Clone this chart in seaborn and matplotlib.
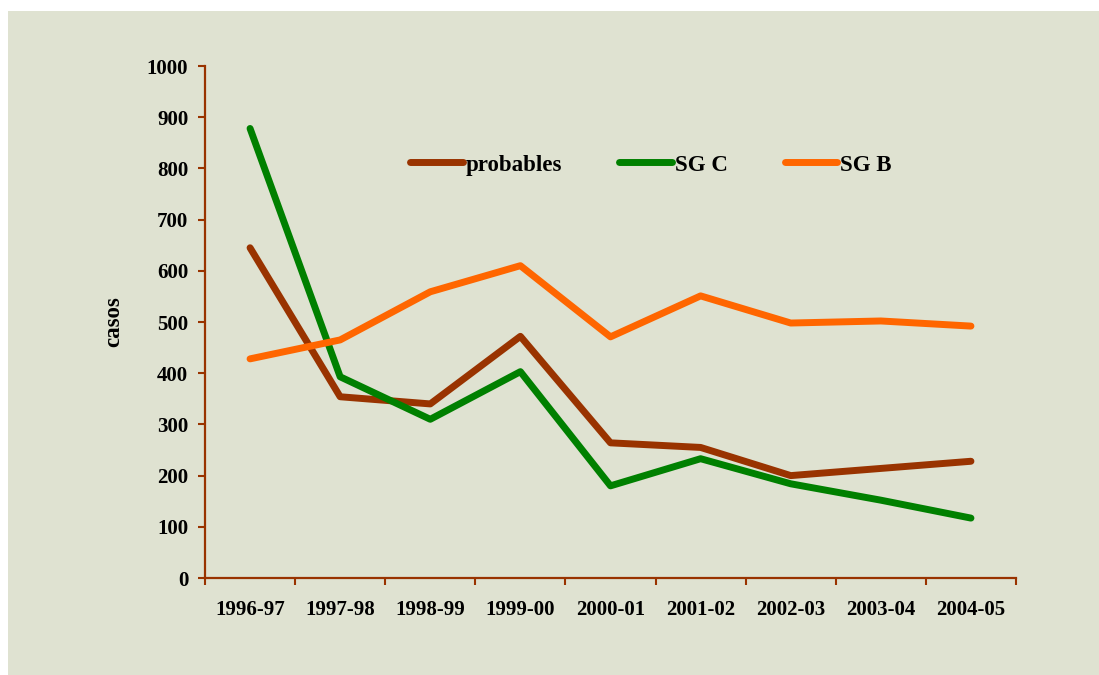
import pandas as pd
import matplotlib.pyplot as plt
import matplotlib.patches as mpatches
import seaborn as sns

# Data
seasons = ['1996-97', '1997-98', '1998-99', '1999-00', '2000-01',
           '2001-02', '2002-03', '2003-04', '2004-05']
probables = [645, 354, 340, 472, 264, 255, 200, 214, 228]
sg_c = [878, 393, 310, 403, 180, 233, 184, 152, 117]
sg_b = [428, 465, 559, 610, 471, 551, 498, 502, 492]

series_names = ['probables', 'SG C', 'SG B']
series_colors = ['#993300', '#008000', '#FF6600']

df = pd.DataFrame({
    'Temporada': seasons * 3,
    'casos': probables + sg_c + sg_b,
    'Serie': [n for n in series_names for _ in seasons],
})

sns.set_style('ticks')
plt.rcParams['font.family'] = ['Liberation Serif', 'DejaVu Serif']
plt.rcParams['font.weight'] = 'bold'
plt.rcParams['text.color'] = 'black'
plt.rcParams['axes.labelcolor'] = 'black'
plt.rcParams['xtick.labelcolor'] = 'black'
plt.rcParams['ytick.labelcolor'] = 'black'

bg = '#DFE2D1'
axis_col = '#993300'

fig = plt.figure(figsize=(10.99, 6.75), dpi=100)
fig.patch.set_facecolor('white')
# shaded panel behind the chart
fig.patches.append(mpatches.Rectangle((8 / 1099, 0), 1 - 8 / 1099, 1 - 11 / 675,
                                      transform=fig.transFigure, facecolor=bg,
                                      edgecolor='none', zorder=-10))
ax = fig.add_axes([205 / 1099, 1 - 578 / 675, (1016 - 205) / 1099, (578 - 66) / 675])
ax.set_facecolor('none')

sns.lineplot(data=df, x='Temporada', y='casos', hue='Serie', hue_order=series_names,
             palette=series_colors, sort=False, linewidth=5, ax=ax,
             solid_capstyle='round')

ax.set_xlim(-0.5, len(seasons) - 0.5)
ax.set_ylim(0, 1000)
ax.set_yticks(range(0, 1001, 100))
ax.set_xticks(range(len(seasons)))
ax.set_xticklabels(seasons)
ax.set_xticks([i - 0.5 for i in range(len(seasons) + 1)], minor=True)

for side in ['top', 'right']:
    ax.spines[side].set_visible(False)
for side in ['left', 'bottom']:
    ax.spines[side].set_color(axis_col)
    ax.spines[side].set_linewidth(1.6)

ax.tick_params(axis='y', length=5, width=1.5, color=axis_col, pad=7, labelsize=15)
ax.tick_params(axis='x', which='major', length=0, pad=16, labelsize=15)
ax.tick_params(axis='x', which='minor', length=5, width=1.5, color=axis_col)
for lbl in ax.get_xticklabels() + ax.get_yticklabels():
    lbl.set_fontweight('bold')

ax.set_xlabel('')
ax.set_ylabel('casos', fontsize=16.5, fontweight='bold')
ax.yaxis.set_label_coords((124 - 205) / 811, 0.5)

handles, labels = ax.get_legend_handles_labels()
ax.get_legend().remove()
fig.legend(handles, labels, loc='center left', bbox_to_anchor=(410 / 1099, 1 - 165 / 675),
           ncol=3, frameon=False, borderpad=0, borderaxespad=0,
           handlelength=2.3, handletextpad=0.12, columnspacing=2.5,
           prop={'family': 'Liberation Serif', 'weight': 'bold', 'size': 16.5})

fig.savefig('out.png', dpi=100)
